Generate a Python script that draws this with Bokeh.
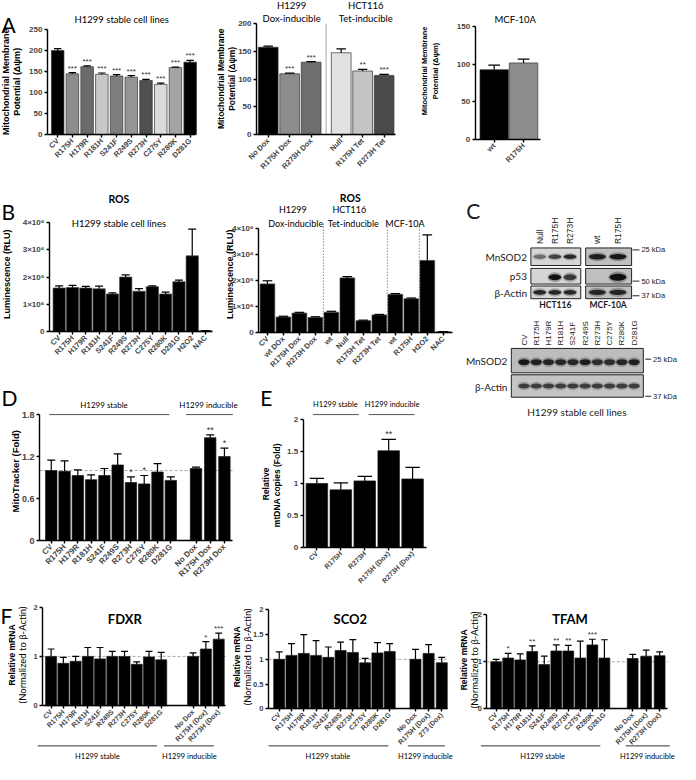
import math
from bokeh.plotting import figure
from bokeh.models import Range1d, FixedTicker, Label, Arrow, ColumnDataSource
from bokeh.layouts import row, column
from bokeh.embed import file_html
from bokeh.resources import INLINE
from bokeh.core.properties import value

# ======================= DATA =======================
stable_mut = ["CV", "R175H", "H179R", "R181H", "S241F", "R249S", "R273H", "C275Y", "R280K", "D281G"]

# A: mitochondrial membrane potential
a1_vals = [201, 145, 162, 144, 140, 137, 129, 120, 160, 173]
a1_errs = [4, 3, 2, 3, 3, 4, 3, 3, 1, 4]
a1_sig = ["", "***", "***", "***", "***", "***", "***", "***", "***", "***"]

a2_labels = ["No Dox", "R175H Dox", "R273H Dox", "Null", "R175H Tet", "R273H Tet"]
a2_vals = [158, 110, 131, 148, 115, 107]
a2_errs = [2, 1, 1, 7, 3, 2]
a2_sig = ["", "***", "***", "", "**", "***"]

a3_labels = ["wt", "R175H"]
a3_vals = [93, 102]
a3_errs = [6, 5]

# B: ROS (luminescence, x10^6 RLU)
b1_labels = stable_mut + ["H2O2", "NAC"]
b1_vals = [1.60, 1.62, 1.60, 1.57, 1.38, 2.00, 1.48, 1.65, 1.38, 1.83, 2.78, 0.03]
b1_errs = [0.08, 0.08, 0.06, 0.10, 0.04, 0.08, 0.10, 0.03, 0.07, 0.06, 0.98, 0.01]

b2_labels = ["CV", "wt DOx", "R175H Dox", "R273H Dox", "wt", "Null", "R175H Tet", "R273H Tet",
             "wt", "R175H", "H2O2", "NAC"]
b2_vals = [1.87, 0.60, 0.75, 0.58, 0.78, 2.10, 0.46, 0.68, 1.47, 1.30, 2.77, 0.03]
b2_errs = [0.12, 0.03, 0.03, 0.03, 0.04, 0.05, 0.02, 0.02, 0.03, 0.03, 0.98, 0.01]
b2_group_sizes = [4, 4, 2, 2]

# D: MitoTracker
d_labels = stable_mut + ["No Dox", "R175H Dox", "R273H Dox"]
d_vals = [1.00, 0.99, 0.93, 0.87, 0.93, 1.08, 0.83, 0.81, 0.98, 0.86, 1.03, 1.47, 1.20]
d_errs = [0.15, 0.15, 0.08, 0.07, 0.10, 0.16, 0.08, 0.12, 0.12, 0.05, 0.02, 0.04, 0.12]
d_sig = ["", "", "", "", "", "", "*", "*", "", "", "", "**", "*"]

# E: mtDNA copies
e_labels = ["CV", "R175H", "R273H", "R175H (Dox)", "R273H (Dox)"]
e_vals = [1.00, 0.90, 1.04, 1.51, 1.07]
e_errs = [0.08, 0.11, 0.07, 0.18, 0.18]
e_sig = ["", "", "", "**", ""]

# F: relative mRNA
f_labels = stable_mut + ["No Dox", "R175H (Dox)", "R273H (Dox)"]
sco2_labels = stable_mut + ["No Dox", "R175H (Dox)", "273 (Dox)"]
fdxr_vals = [1.00, 0.86, 0.90, 1.00, 0.95, 1.00, 1.00, 0.84, 0.99, 0.93, 1.00, 1.15, 1.35]
fdxr_errs = [0.15, 0.12, 0.10, 0.18, 0.23, 0.10, 0.10, 0.05, 0.11, 0.15, 0.07, 0.15, 0.12]
fdxr_sig = ["", "", "", "", "", "", "", "", "", "", "", "*", "***"]
sco2_vals = [1.00, 1.08, 1.12, 1.08, 1.04, 1.18, 1.14, 0.93, 1.13, 1.16, 1.00, 1.12, 0.93]
sco2_errs = [0.15, 0.24, 0.38, 0.30, 0.21, 0.17, 0.26, 0.09, 0.21, 0.16, 0.20, 0.18, 0.11]
tfam_vals = [1.00, 1.08, 1.04, 1.22, 0.94, 1.23, 1.23, 1.08, 1.36, 1.08, 1.07, 1.12, 1.13]
tfam_errs = [0.05, 0.10, 0.13, 0.12, 0.18, 0.13, 0.12, 0.36, 0.12, 0.39, 0.09, 0.13, 0.08]
tfam_sig = ["", "*", "", "**", "", "**", "**", "", "***", "", "", "", ""]

# C: western blots (relative band intensity 0..1)
c_hct_lanes = ["Null", "R175H", "R273H"]
c_mcf_lanes = ["wt", "R175H"]
c_hct_mnsod2 = [0.45, 0.70, 0.85]
c_mcf_mnsod2 = [0.90, 0.95]
c_hct_p53 = [0.0, 1.0, 0.75]
c_mcf_p53 = [0.0, 1.0]
c_hct_actin = [0.85, 0.85, 0.85]
c_mcf_actin = [0.85, 0.85]
c_h1299_lanes = stable_mut
c_h1299_mnsod2 = [0.95, 0.90, 0.85, 0.85, 0.85, 0.90, 0.80, 0.80, 0.85, 0.90]
c_h1299_actin = [0.70, 0.70, 0.70, 0.70, 0.70, 0.70, 0.70, 0.70, 0.70, 0.70]

# ======================= STYLE =======================
a1_colors = ["#000000", "#8c8c8c", "#6b6b6b", "#c8c8c8", "#7d7d7d", "#959595", "#4f4f4f",
             "#dadada", "#a3a3a3", "#000000"]
a2_colors = ["#000000", "#8c8c8c", "#6e6e6e", "#e2e2e2", "#c4c4c4", "#4a4a4a"]
a3_colors = ["#000000", "#8c8c8c"]

S = 0.977
AXF = "Liberation Sans"
CALF = "Lato"
LETTER = 21


def sc(v):
    return int(round(v * S))


class Panel:
    """box: figure extent in reference px; frame: plotting area in reference px,
    pxr/pyr: data values at the plotting-area edges."""

    def __init__(self, box, frame, pxr, pyr, ybounds=None, axes=True):
        self.frame = frame
        self.pxr = pxr
        self.pyr = pyr
        bx0, bx1, by0, by1 = box
        xr = (self.dx(bx0), self.dx(bx1))
        yr = (self.dy(by1), self.dy(by0))
        kw = dict(width=sc(bx1) - sc(bx0), height=sc(by1) - sc(by0),
                  x_range=Range1d(*xr), y_range=Range1d(*yr),
                  min_border=0, min_border_left=0, min_border_right=0,
                  min_border_top=0, min_border_bottom=0,
                  output_backend="svg", toolbar_location=None, title=None)
        if not axes:
            kw.update(x_axis_type=None, y_axis_type=None)
        self.p = figure(**kw)
        self.p.grid.visible = False
        self.p.outline_line_color = None
        if axes:
            self.p.xaxis.fixed_location = pyr[0]
            self.p.yaxis.fixed_location = pxr[0]
            self.p.xaxis.bounds = (pxr[0], pxr[1])
            self.p.yaxis.bounds = ybounds if ybounds else (pyr[0], pyr[1])

    def dx(self, X):
        fl, fr = self.frame[0], self.frame[1]
        return self.pxr[0] + (X - fl) / (fr - fl) * (self.pxr[1] - self.pxr[0])

    def dy(self, Y):
        ft, fb = self.frame[2], self.frame[3]
        return self.pyr[0] + (fb - Y) / (fb - ft) * (self.pyr[1] - self.pyr[0])


def make_panel(box, frame, c0, pitch, pyr, ybounds=None):
    fl, fr = frame[0], frame[1]
    return Panel(box, frame, ((fl - c0) / pitch, (fr - c0) / pitch), pyr, ybounds)


def label(pn, X, Y, text, size, font=CALF, style="normal", align="center",
          baseline="middle", angle=0.0, color="black"):
    pn.p.add_layout(Label(x=pn.dx(X), y=pn.dy(Y), text=text, text_font=font,
                          text_font_size=f"{size}px", text_font_style=style,
                          text_align=align, text_baseline=baseline, angle=angle,
                          text_color=color))


def letter(pn, X, Ybottom, t):
    label(pn, X, Ybottom, t, LETTER, align="left", baseline="alphabetic")


def ylab(pn, X, Y, text, size, font=AXF, style="bold"):
    label(pn, X, Y, text, size, font=font, style=style, angle=math.pi / 2)


def hline(pn, X0, X1, Y, color="#333333", w=1.0):
    pn.p.add_layout(Arrow(x_start=pn.dx(X0), y_start=pn.dy(Y), x_end=pn.dx(X1), y_end=pn.dy(Y),
                          start=None, end=None, line_color=color, line_width=w))


def ref_line(pn, yv):
    pn.p.segment(x0=[pn.pxr[0]], y0=[yv], x1=[pn.pxr[1]], y1=[yv], line_color="#a8a8a8",
                 line_width=1, line_dash="3 2")


def vsep(pn, xv, y0, y1, color, dash="solid", w=1.0):
    pn.p.segment(x0=[xv], y0=[y0], x1=[xv], y1=[y1], line_color=color, line_width=w,
                 line_dash=dash)


def style_axes(pn, xs, xlabels, yticks, fs=8, xfs=None, yover=None):
    p = pn.p
    for ax in (p.xaxis[0], p.yaxis[0]):
        ax.axis_line_width = 1.4
        ax.axis_line_color = "black"
        ax.major_tick_line_width = 1.4
        ax.major_tick_out = 3
        ax.major_tick_in = 0
        ax.minor_tick_line_color = None
        ax.major_label_text_font = AXF
        ax.major_label_text_font_style = "bold"
        ax.major_label_text_font_size = f"{fs}px"
        ax.major_label_standoff = 2
    if xfs:
        p.xaxis.major_label_text_font_size = f"{xfs}px"
    p.xaxis.ticker = FixedTicker(ticks=list(xs), minor_ticks=[])
    p.yaxis.ticker = FixedTicker(ticks=list(yticks), minor_ticks=[])
    p.xaxis.major_label_overrides = {x: l for x, l in zip(xs, xlabels)}
    p.xaxis.major_label_orientation = math.pi / 4
    if yover:
        p.yaxis.major_label_overrides = yover


def draw_bars(pn, xs, vals, errs, colors, width, cap, sig=None, star_fs=8, line_color="#1a1a1a"):
    n = len(vals)
    et = [v + e for v, e in zip(vals, errs)]
    src = ColumnDataSource(dict(x=list(xs), top=list(vals), et=et,
                                xl=[x - cap for x in xs], xr=[x + cap for x in xs],
                                c=list(colors), s=list(sig) if sig else [""] * n))
    p = pn.p
    p.vbar(x="x", top="top", bottom=0, width=width, fill_color="c", line_color=line_color,
           line_width=0.7, source=src)
    p.segment(x0="x", y0="top", x1="x", y1="et", line_color="black", line_width=1.2, source=src)
    p.segment(x0="xl", y0="et", x1="xr", y1="et", line_color="black", line_width=1.2, source=src)
    if sig:
        p.text(x="x", y="et", text="s", text_align="center", text_baseline="bottom",
               text_font=value(AXF), text_font_size=f"{star_fs}px", text_color="#333333",
               source=src)


def positions(n_first, ind_start=None, ind_step=1.0, n_ind=0):
    xs = [float(i) for i in range(n_first)]
    for k in range(n_ind):
        xs.append(ind_start + k * ind_step)
    return xs


# ======================= PANEL A =======================
a1 = make_panel((0, 222, 0, 190), (48, 200, 30, 137), 58.5, 15.06, (0, 250))
xs = positions(10)
draw_bars(a1, xs, a1_vals, a1_errs, a1_colors, 0.85, 0.25, a1_sig, star_fs=8, line_color="#333333")
style_axes(a1, xs, stable_mut, [0, 50, 100, 150, 200, 250], fs=8, xfs=7.5)
letter(a1, 1, 25, "A")
label(a1, 124, 19, "H1299 stable cell lines", 9.5)
ylab(a1, 6, 83, "Mitochondrial Membrane", 9)
ylab(a1, 17, 83, "Potential (\u0394\u03c8m)", 9)

a2 = make_panel((222, 425, 0, 190), (262, 405, 24, 137), 274, 22, (0, 200))
xs = positions(3, 3.4, 1.0, 3)
vsep(a2, (xs[2] + xs[3]) / 2, 0, 200, "#c4c4c4", w=1.5)
draw_bars(a2, xs, a2_vals, a2_errs, a2_colors, 0.92, 0.22, a2_sig, star_fs=8, line_color="#333333")
style_axes(a2, xs, a2_labels, [0, 50, 100, 150, 200], fs=8, xfs=7.5)
label(a2, 298, 5, "H1299", 9.5)
label(a2, 298, 18, "Dox-inducible", 9.5)
label(a2, 374, 5, "HCT116", 9.5)
label(a2, 374, 18, "Tet-inducible", 9.5)
ylab(a2, 226, 80, "Mitochondrial Membrane", 8.5)
ylab(a2, 237, 80, "Potential (\u0394\u03c8m)", 8.5)

a3 = make_panel((425, 696, 0, 190), (486, 553, 27, 142), 505.5, 30, (0, 150))
xs = positions(2)
draw_bars(a3, xs, a3_vals, a3_errs, a3_colors, 0.97, 0.2, line_color="#333333")
style_axes(a3, xs, a3_labels, [0, 50, 100, 150], fs=8, xfs=7.5)
label(a3, 527, 19, "MCF-10A", 9.5)
ylab(a3, 434, 72, "Mitochondrial Membrane", 7.5)
ylab(a3, 445, 72, "Potential (\u0394\u03c8m)", 7.5)

# ======================= PANEL B =======================
sci = {1: "1\u00d710\u2076", 2: "2\u00d710\u2076", 3: "3\u00d710\u2076", 4: "4\u00d710\u2076"}

b1 = make_panel((0, 230, 190, 385), (50, 217, 227, 339), 60, 13.6, (0, 4))
xs = positions(12)
draw_bars(b1, xs, b1_vals, b1_errs, ["black"] * 12, 0.92, 0.3, line_color="#444444")
style_axes(b1, xs, b1_labels, [0, 1, 2, 3, 4], fs=8, xfs=7.5, yover=sci)
letter(b1, 1, 216, "B")
label(b1, 121, 203, "ROS", 10.5, style="bold")
label(b1, 121, 228, "H1299 stable cell lines", 9.5)
ylab(b1, 7, 280, "Luminescence (RLU)", 9)

b2 = make_panel((230, 470, 190, 385), (264, 463, 229, 340), 273, 16.4, (0, 4.15), ybounds=(0, 4))
xs = positions(12)
acc = 0
for g in b2_group_sizes[:-1]:
    acc += g
    vsep(b2, acc - 0.5, 0, b2.dy(228), "#555555", dash="1 2")
draw_bars(b2, xs, b2_vals, b2_errs, ["black"] * 12, 0.92, 0.3, line_color="#444444")
style_axes(b2, xs, b2_labels, [0, 1, 2, 3, 4], fs=8, xfs=7.5, yover=sci)
label(b2, 358, 202, "ROS", 10.5, style="bold")
label(b2, 299, 214, "H1299", 9)
label(b2, 302, 228, "Dox-inducible", 9)
label(b2, 357, 214, "HCT116", 9)
label(b2, 361, 228, "Tet-inducible", 9)
label(b2, 414, 228, "MCF-10A", 9)
ylab(b2, 235, 280, "Luminescence (RLU)", 9)

# ======================= PANEL D =======================
d = make_panel((0, 254, 385, 600), (40, 238, 424, 553), 52, 13.6, (0, 1.8))
xs = positions(10, 10.9, 1.07, 3)
ref_line(d, 1.0)
draw_bars(d, xs, d_vals, d_errs, ["black"] * 13, 0.86, 0.3, d_sig, star_fs=9)
style_axes(d, xs, d_labels, [0, 0.6, 1.2, 1.8], fs=9, xfs=8)
letter(d, 1, 406, "D")
label(d, 106, 414, "H1299 stable", 8)
hline(d, 50, 173, 424, color="#555555")
label(d, 213, 414, "H1299 inducible", 8)
hline(d, 190, 238, 424, color="#555555")
ylab(d, 15, 482, "MitoTracker (Fold)", 9.5)

# ======================= PANEL E =======================
e = make_panel((254, 470, 385, 600), (310, 436, 429, 560), 324, 24.5, (0, 2))
xs = positions(5)
draw_bars(e, xs, e_vals, e_errs, ["black"] * 5, 0.9, 0.3, e_sig, star_fs=9)
style_axes(e, xs, e_labels, [0, 0.5, 1.0, 1.5, 2.0], fs=8, xfs=7)
letter(e, 266, 406, "E")
label(e, 343, 414, "H1299 stable", 7.5)
hline(e, 320, 367, 424, color="#555555")
label(e, 401, 414, "H1299 inducible", 7.5)
hline(e, 377, 424, 424, color="#555555")
ylab(e, 272, 495, "Relative", 8.5)
ylab(e, 283, 495, "mtDNA copies  (Fold)", 8.5)

# ======================= PANEL C (blots) =======================
c = Panel((470, 696, 190, 600), (470, 696, 190, 600), (470, 696), (600, 190), axes=False)
cp = c.p


def blot_box(x0, x1, y0, y1, fill):
    cp.quad(left=x0, right=x1, top=y0, bottom=y1, fill_color=fill, line_color="#222222", line_width=1)


def blot_bands(lx, y, w, h, intens):
    bx = [x for x, a in zip(lx, intens) if a > 0]
    ba = [a for a in intens if a > 0]
    src = ColumnDataSource(dict(x=bx, y=[y] * len(bx), a=ba, a2=[v * 0.35 for v in ba]))
    cp.ellipse(x="x", y="y", width=w * 1.15, height=h * 1.7, fill_color="#333333",
               fill_alpha="a2", line_color=None, source=src)
    cp.ellipse(x="x", y="y", width=w, height=h, fill_color="#111111",
               fill_alpha="a", line_color=None, source=src)


def ctext(X, Y, t, size, font=CALF, style="normal", align="center", angle=0.0, baseline="middle"):
    cp.text(x=[X], y=[Y], text=[t], text_font=value(font), text_font_size=f"{size}px",
            text_font_style=style, text_align=align, text_baseline=baseline, angle=angle,
            text_color="#1a1a1a")


hct_x = [552, 567.5, 583]
mcf_x = [611, 632]
for (y0, y1) in [(253, 271), (274, 290), (292, 305)]:
    blot_box(543, 594, y0, y1, "#d6d6d6")
    blot_box(599, 646, y0, y1, "#bfbfbf")
blot_bands(hct_x, 262, 13, 4.5, c_hct_mnsod2)
blot_bands(mcf_x, 262, 17, 5.5, c_mcf_mnsod2)
blot_bands(hct_x, 283, 13, 6, c_hct_p53)
blot_bands(mcf_x, 283, 17, 7, c_mcf_p53)
blot_bands(hct_x, 298.5, 13, 5, c_hct_actin)
blot_bands(mcf_x, 298.5, 17, 5.5, c_mcf_actin)
for x, t in zip(hct_x + mcf_x, c_hct_lanes + c_mcf_lanes):
    ctext(x, 249, t, 8.5, font=AXF, align="left", angle=math.pi / 2)
ctext(539, 262, "MnSOD2", 10, align="right")
ctext(539, 282, "p53", 10, align="right")
ctext(539, 299, "\u03b2-Actin", 10, align="right")
ctext(568, 311, "HCT116", 8.5, style="bold")
ctext(622, 311, "MCF-10A", 8.5, style="bold")
for yk, t in [(255, "25 kDa"), (287, "50 kDa"), (302, "37 kDa")]:
    cp.segment(x0=[647], y0=[yk], x1=[654], y1=[yk], line_color="#222222", line_width=1)
    ctext(656, yk, t, 7.5, font=AXF, align="left")

low_x = [536 + 12.5 * i for i in range(10)]
blot_box(523, 658, 356, 381, "#bdbdbd")
blot_box(523, 658, 383, 406, "#c4c4c4")
blot_bands(low_x, 370, 11.5, 6, c_h1299_mnsod2)
blot_bands(low_x, 394.5, 11.5, 5, c_h1299_actin)
for x, t in zip(low_x, c_h1299_lanes):
    ctext(x, 353, t, 8, font=AXF, align="left", angle=math.pi / 2)
ctext(519, 369, "MnSOD2", 10, align="right")
ctext(519, 395, "\u03b2-Actin", 10, align="right")
for yk, t in [(367, "25 kDa"), (405, "37 kDa")]:
    cp.segment(x0=[660], y0=[yk], x1=[666], y1=[yk], line_color="#222222", line_width=1)
    ctext(668, yk, t, 7.5, font=AXF, align="left")
ctext(590, 421, "H1299 stable cell lines", 10)
ctext(477, 215, "C", LETTER, align="left", baseline="alphabetic")


# ======================= PANEL F =======================
def f_panel(box, frame, c0, pitch, ind_start, ind_step, labels, vals, errs, sig, yticks, title,
            title_x, ylab_x, ylab_y, groups):
    pn = make_panel(box, frame, c0, pitch, (0, 2))
    xs = positions(10, ind_start, ind_step, 3)
    ref_line(pn, 1.0)
    draw_bars(pn, xs, vals, errs, ["black"] * 13, 0.9, 0.28, sig, star_fs=8)
    style_axes(pn, xs, labels, yticks, fs=7.5, xfs=7)
    label(pn, title_x, 633, title, 13, style="bold")
    ylab(pn, ylab_x, ylab_y, "Relative mRNA", 8.5)
    ylab(pn, ylab_x + 10, ylab_y, "(Normalized to \u03b2-Actin)", 9.5, font=CALF, style="normal")
    for (x0, x1, tx, t) in groups:
        hline(pn, x0, x1, 763, color="#333333")
        label(pn, tx, 774, t, 7.5)
    return pn


f1 = f_panel((0, 236, 600, 780), (43, 230, 621, 722), 51.7, 12.5, 11.6, 1.05, f_labels,
             fdxr_vals, fdxr_errs, fdxr_sig, [0, 1, 2], "FDXR", 127, 12, 670,
             [(38, 160, 99, "H1299 stable"), (167, 218, 193, "H1299 inducible")])
letter(f1, 0, 630, "F")
f2 = f_panel((236, 468, 600, 780), (274, 458, 624, 725), 285, 12.6, 11.1, 1.07, sco2_labels,
             sco2_vals, sco2_errs, None, [0, 0.5, 1.0, 1.5, 2.0], "SCO2", 358, 242, 672,
             [(274, 397, 335, "H1299 stable"), (417, 455, 435, "H1299 inducible")])
f3 = f_panel((468, 696, 600, 780), (498, 683, 629, 725), 507.5, 12.3, 11.35, 1.12, f_labels,
             tfam_vals, tfam_errs, tfam_sig, [0, 1, 2], "TFAM", 583, 475, 675,
             [(492, 614, 555, "H1299 stable"), (640, 685, 662, "H1299 inducible")])

layout = column(
    row(a1.p, a2.p, a3.p),
    row(column(row(b1.p, b2.p), row(d.p, e.p)), c.p),
    row(f1.p, f2.p, f3.p),
)

open("out.html", "w").write(file_html(layout, INLINE))
